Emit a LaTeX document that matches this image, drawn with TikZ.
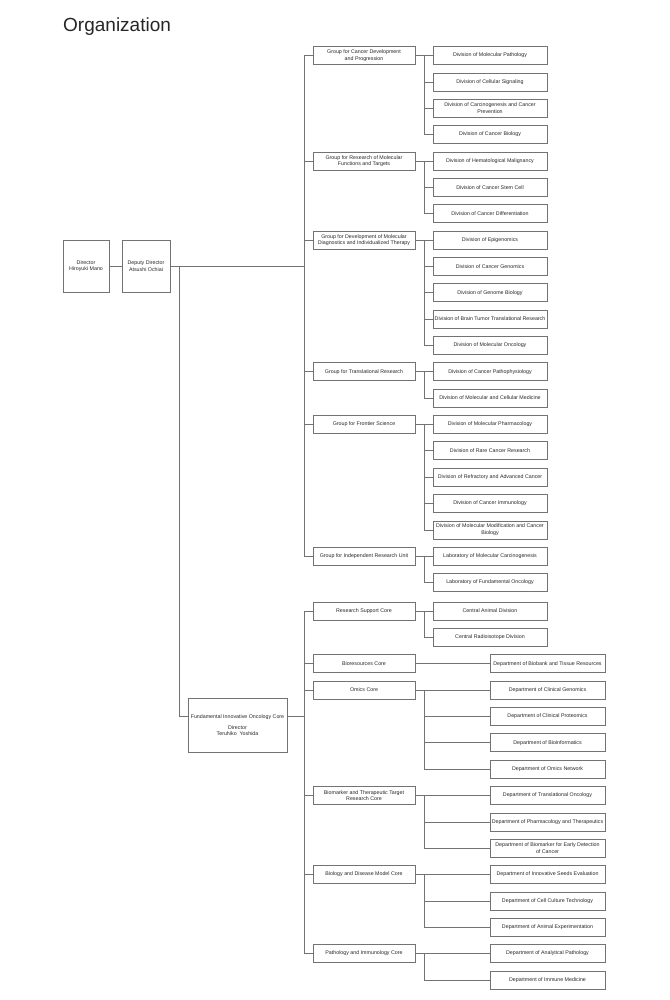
\documentclass[tikz,border=0pt]{standalone}
\usepackage{fontspec}
\setmainfont{Liberation Sans}
\begin{document}
\begin{tikzpicture}[x=1pt,y=-1pt,
  lab/.style={font=\fontsize{5.3}{6.5}\selectfont, text=black!85, align=center, inner sep=0pt},
  bx/.style={lab, draw=black!55, line width=0.6pt, minimum height=18pt},
  grp/.style={bx, minimum width=102pt},
  dv/.style={bx, minimum width=114pt},
  dpt/.style={bx, minimum width=115pt},
  ln/.style={draw=black!55, line width=0.6pt}]
\useasboundingbox (0,0) rectangle (669,1000);
\node[anchor=base west, inner sep=0pt, font=\fontsize{19}{22}\selectfont, text=black!85] (title) at (63,31.5) {Organization};

% top people
\node[bx, minimum width=46pt, minimum height=52pt] (dir) at (86,266.3) {Director\\Hiroyuki Mano};
\node[bx, minimum width=48pt, minimum height=52pt] (dep) at (146,266.3) {Deputy Director\\Atsushi Ochiai};

% divisions
\def\dy#1{55.5+26.35*#1}
\node[dv] (d0) at (490,{\dy{0}}) {Division of Molecular Pathology};
\node[dv] (d1) at (490,{\dy{1}}) {Division of Cellular Signaling};
\node[dv] (d2) at (490,{\dy{2}}) {Division of Carcinogenesis and Cancer\\Prevention};
\node[dv] (d3) at (490,{\dy{3}}) {Division of Cancer Biology};
\node[dv] (d4) at (490,{\dy{4}}) {Division of Hematological Malignancy};
\node[dv] (d5) at (490,{\dy{5}}) {Division of Cancer Stem Cell};
\node[dv] (d6) at (490,{\dy{6}}) {Division of Cancer Differentiation};
\node[dv] (d7) at (490,{\dy{7}}) {Division of Epigenomics};
\node[dv] (d8) at (490,{\dy{8}}) {Division of Cancer Genomics};
\node[dv] (d9) at (490,{\dy{9}}) {Division of Genome Biology};
\node[dv] (d10) at (490,{\dy{10}}) {Division of Brain Tumor Translational Research};
\node[dv] (d11) at (490,{\dy{11}}) {Division of Molecular Oncology};
\node[dv] (d12) at (490,{\dy{12}}) {Division of Cancer Pathophysiology};
\node[dv] (d13) at (490,{\dy{13}}) {Division of Molecular and Cellular Medicine};
\node[dv] (d14) at (490,{\dy{14}}) {Division of Molecular Pharmacology};
\node[dv] (d15) at (490,{\dy{15}}) {Division of Rare Cancer Research};
\node[dv] (d16) at (490,{\dy{16}}) {Division of Refractory and Advanced Cancer};
\node[dv] (d17) at (490,{\dy{17}}) {Division of Cancer Immunology};
\node[dv] (d18) at (490,{\dy{18}}) {Division of Molecular Modification and Cancer\\Biology};
\node[dv] (d19) at (490,{\dy{19}}) {Laboratory of Molecular Carcinogenesis};
\node[dv] (d20) at (490,{\dy{20}}) {Laboratory of Fundamental Oncology};

% groups
\node[grp] (g1) at (364,{\dy{0}}) {Group for Cancer Development\\and Progression};
\node[grp] (g2) at (364,{\dy{4}}) {Group for Research of Molecular\\Functions and Targets};
\node[grp] (g3) at (364,{\dy{7}}) {Group for Development of Molecular\\Diagnostics and Individualized Therapy};
\node[grp] (g4) at (364,{\dy{12}}) {Group for Translational Research};
\node[grp] (g5) at (364,{\dy{14}}) {Group for Frontier Science};
\node[grp] (g6) at (364,{\dy{19}}) {Group for Independent Research Unit};

% fundamental core
\node[bx, minimum width=99pt, minimum height=54pt] (fic) at (237.5,725) {Fundamental Innovative Oncology Core\\[4.5pt]Director\\Teruhiko\ \ Yoshida};

\def\cy#1{611+26.35*#1}
\node[grp] (c0) at (364,{\cy{0}}) {Research Support Core};
\node[grp] (c2) at (364,{\cy{2}}) {Bioresources Core};
\node[grp] (c3) at (364,{\cy{3}}) {Omics Core};
\node[grp] (c7) at (364,{\cy{7}}) {Biomarker and Therapeutic Target\\Research Core};
\node[grp] (c10) at (364,{\cy{10}}) {Biology and Disease Model Core};
\node[grp] (c13) at (364,{\cy{13}}) {Pathology and Immunology Core};

\node[dv] (e0) at (490,{\cy{0}}) {Central Animal Division};
\node[dv] (e1) at (490,{\cy{1}}) {Central Radioisotope Division};
\node[dpt] (e2) at (547.5,{\cy{2}}) {Department of Biobank and Tissue Resources};
\node[dpt] (e3) at (547.5,{\cy{3}}) {Department of Clinical Genomics};
\node[dpt] (e4) at (547.5,{\cy{4}}) {Department of Clinical Proteomics};
\node[dpt] (e5) at (547.5,{\cy{5}}) {Department of Bioinformatics};
\node[dpt] (e6) at (547.5,{\cy{6}}) {Department of Omics Network};
\node[dpt] (e7) at (547.5,{\cy{7}}) {Department of Translational Oncology};
\node[dpt] (e8) at (547.5,{\cy{8}}) {Department of Pharmacology and Therapeutics};
\node[dpt] (e9) at (547.5,{\cy{9}}) {Department of Biomarker for Early Detection\\of Cancer};
\node[dpt] (e10) at (547.5,{\cy{10}}) {Department of Innovative Seeds Evaluation};
\node[dpt] (e11) at (547.5,{\cy{11}}) {Department of Cell Culture Technology};
\node[dpt] (e12) at (547.5,{\cy{12}}) {Department of Animal Experimentation};
\node[dpt] (e13) at (547.5,{\cy{13}}) {Department of Analytical Pathology};
\node[dpt] (e14) at (547.5,{\cy{14}}) {Department of Immune Medicine};

% coordinates
\coordinate (sp) at (304,0);
\coordinate (br) at (424,0);
\coordinate (fa) at (179,266.3);
\coordinate (ficin) at (188,{\cy{4}});
\coordinate (ficout) at (287,{\cy{4}});

% connectors top
\draw[ln] (dir) -- (dep);
\draw[ln] (dep.east) -- (dep.east -| sp);
\draw[ln] (g1.west -| sp) -- (g6.west -| sp);
\foreach \g in {g1,g2,g3,g4,g5,g6} \draw[ln] (\g.west -| sp) -- (\g.west);
\draw[ln] (fa) |- (ficin);

% group branches
\draw[ln] (g1.east) -- (d0.west);
\draw[ln] (br |- d0.west) |- (d3.west);
\foreach \n in {d1,d2} \draw[ln] (br |- \n.west) -- (\n.west);
\draw[ln] (g2.east) -- (d4.west);
\draw[ln] (br |- d4.west) |- (d6.west);
\draw[ln] (br |- d5.west) -- (d5.west);
\draw[ln] (g3.east) -- (d7.west);
\draw[ln] (br |- d7.west) |- (d11.west);
\foreach \n in {d8,d9,d10} \draw[ln] (br |- \n.west) -- (\n.west);
\draw[ln] (g4.east) -- (d12.west);
\draw[ln] (br |- d12.west) |- (d13.west);
\draw[ln] (g5.east) -- (d14.west);
\draw[ln] (br |- d14.west) |- (d18.west);
\foreach \n in {d15,d16,d17} \draw[ln] (br |- \n.west) -- (\n.west);
\draw[ln] (g6.east) -- (d19.west);
\draw[ln] (br |- d19.west) |- (d20.west);

% core connectors
\draw[ln] (ficout) -- (ficout -| sp);
\draw[ln] (c0.west -| sp) -- (c13.west -| sp);
\foreach \c in {c0,c2,c3,c7,c10,c13} \draw[ln] (\c.west -| sp) -- (\c.west);
\draw[ln] (c0.east) -- (e0.west);
\draw[ln] (br |- e0.west) |- (e1.west);
\draw[ln] (c2.east) -- (e2.west);
\draw[ln] (c3.east) -- (e3.west);
\draw[ln] (br |- e3.west) |- (e6.west);
\foreach \n in {e4,e5} \draw[ln] (br |- \n.west) -- (\n.west);
\draw[ln] (c7.east) -- (e7.west);
\draw[ln] (br |- e7.west) |- (e9.west);
\draw[ln] (br |- e8.west) -- (e8.west);
\draw[ln] (c10.east) -- (e10.west);
\draw[ln] (br |- e10.west) |- (e12.west);
\draw[ln] (br |- e11.west) -- (e11.west);
\draw[ln] (c13.east) -- (e13.west);
\draw[ln] (br |- e13.west) |- (e14.west);
\end{tikzpicture}
\end{document}
